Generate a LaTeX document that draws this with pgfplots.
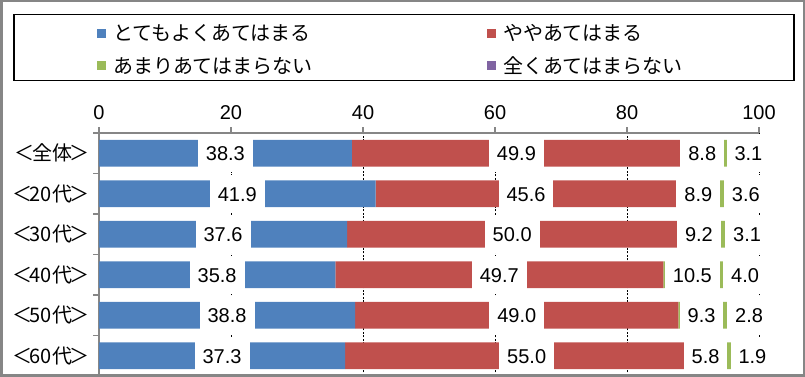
\documentclass[border=0pt]{standalone}
\usepackage{fontspec}
\setmainfont{Liberation Sans}
\newfontfamily\jp{Noto Sans CJK JP}
\newfontfamily\jpp[RawFeature=+palt]{Noto Sans CJK JP}
\usepackage{pgfplots}
\usepackage{pgfplotstable}
\pgfplotsset{compat=1.18}
\definecolor{cblue}{HTML}{4F81BD}
\definecolor{cred}{HTML}{C0504D}
\definecolor{cgreen}{HTML}{9BBB59}
\definecolor{cpurple}{HTML}{8064A2}
\definecolor{axgray}{RGB}{134,134,134}
\newcommand\ff{\fontsize{20bp}{24bp}\selectfont}
\newcommand\cat[1]{＜\kern-2.5bp#1\kern-2.5bp＞}
\pgfplotsset{myleg/.style={legend image code/.code={\fill[##1] (0bp,3bp) rectangle (9bp,12bp);}}}

\pgfplotstableread{
y  a    b    c    d
5  38.3 49.9 8.8  3.1
4  41.9 45.6 8.9  3.6
3  37.6 50.0 9.2  3.1
2  35.8 49.7 10.5 4.0
1  38.8 49.0 9.3  2.8
0  37.3 55.0 5.8  1.9
}\data

\pgfplotstableread{
y  xa    la    xb    lb    xc    lc    xd    ld
5  19.15 38.3  63.25 49.9  91.4  8.8   98.4  3.1
4  20.95 41.9  64.70 45.6  90.8  8.9   98.0  3.6
3  18.80 37.6  62.60 50.0  90.9  9.2   98.2  3.1
2  17.90 35.8  60.65 49.7  89.9  10.5  97.9  4.0
1  19.40 38.8  63.30 49.0  91.3  9.3   98.5  2.8
0  18.65 37.3  64.80 55.0  91.9  5.8   99.0  1.9
}\labels

\begin{document}
\begin{tikzpicture}
\path[use as bounding box] (0,0) rectangle (805bp,377bp);
\begin{axis}[
  at={(99bp,1bp)}, anchor=south west,
  scale only axis, width=660bp, height=243bp,
  xbar stacked, bar width=26.7bp,
  xmin=0, xmax=100, ymin=-0.5, ymax=5.5, enlargelimits=false,
  axis x line*=top, axis y line*=left,
  axis line style={draw=axgray, line width=1.3bp, -},
  xtick={0,20,...,100},
  ytick={0,...,5},
  yticklabels={\cat{60代},\cat{50代},\cat{40代},\cat{30代},\cat{20代},\cat{全体}},
  minor ytick={-0.5,0.5,...,5.5},
  tick align=outside,
  major tick length=6bp, minor tick length=6bp,
  major y tick style={draw=none},
  minor y tick style={draw=axgray, line width=1.3bp},
  major x tick style={draw=axgray, line width=1.3bp},
  xmajorgrids,
  major grid style={black, line width=0.8bp, dash pattern=on 2bp off 1.5bp},
  /pgf/number format/assume math mode=true,
  tick label style={font=\ff},
  xticklabel style={yshift=4bp},
  yticklabel style={font=\jpp\ff},
  legend columns=2,
  legend style={
    at={(axis description cs:-0.1303,1.49)}, anchor=north west,
    draw=black, line width=1.5bp,
    inner xsep=83.5bp, inner ysep=0.5bp,
    cells={anchor=base west},
    /tikz/row sep=0pt,
    nodes={text width=200bp, align=left, inner xsep=7bp, inner ysep=6bp,
           text height=19.5bp, text depth=1bp, font=\jp\ff},
    /tikz/column 2/.style={column sep=167bp},
  },
]
\addplot[fill=cblue, draw=none, myleg] table[x=a, y=y] \data;
\addplot[fill=cred, draw=none, myleg] table[x=b, y=y] \data;
\addplot[fill=cgreen, draw=none, myleg] table[x=c, y=y] \data;
\addplot[fill=cpurple, draw=none, myleg] table[x=d, y=y] \data;
\addlegendentry{とてもよくあてはまる}
\addlegendentry{ややあてはまる}
\addlegendentry{あまりあてはまらない}
\addlegendentry{全くあてはまらない}
\end{axis}
\begin{axis}[
  at={(99bp,1bp)}, anchor=south west,
  scale only axis, width=660bp, height=243bp,
  xmin=0, xmax=100, ymin=-0.5, ymax=5.5, enlargelimits=false,
  hide axis, clip=false,
  nodes near coords align={center},
  every node near coord/.append style={fill=white, inner xsep=8bp, inner ysep=0pt,
     text height=14.5bp, text depth=0bp, minimum height=38bp, font=\ff, anchor=center},
]
\addplot[draw=none, nodes near coords, point meta=explicit symbolic] table[x=xa, y=y, meta=la] \labels;
\addplot[draw=none, nodes near coords, point meta=explicit symbolic] table[x=xb, y=y, meta=lb] \labels;
\addplot[draw=none, nodes near coords, point meta=explicit symbolic] table[x=xc, y=y, meta=lc] \labels;
\addplot[draw=none, nodes near coords, point meta=explicit symbolic] table[x=xd, y=y, meta=ld] \labels;
\end{axis}
\draw[axgray, line width=2.5bp] (1.25bp,1.25bp) rectangle (803.75bp,375.75bp);
\end{tikzpicture}
\end{document}
